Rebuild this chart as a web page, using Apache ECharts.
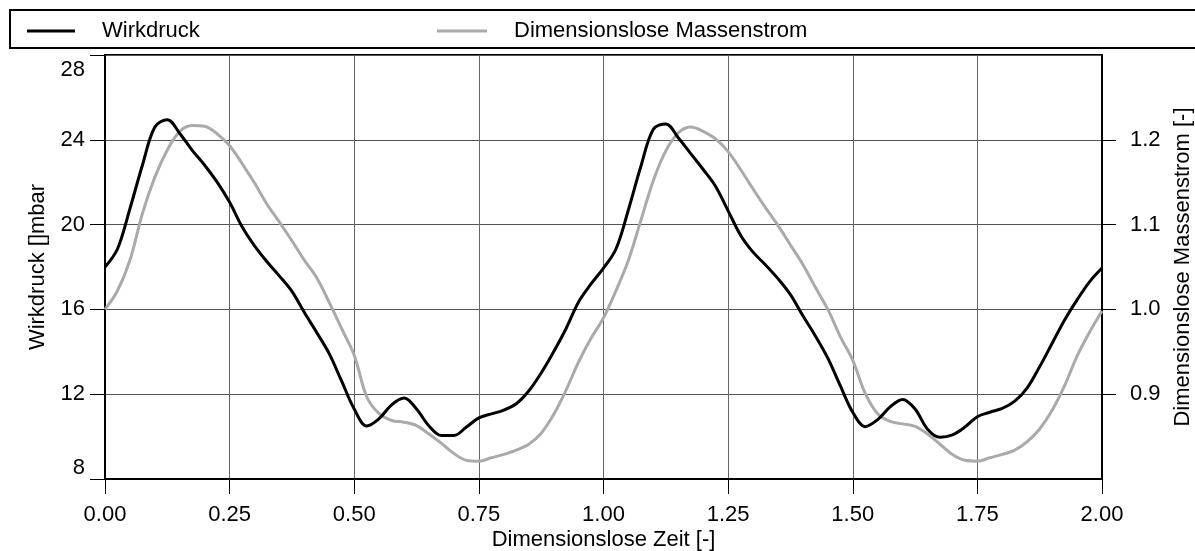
<!DOCTYPE html>
<html>
<head>
<meta charset="utf-8">
<script src="https://cdn.jsdelivr.net/npm/echarts@6/dist/echarts.min.js"></script>
<style>
  html, body { margin: 0; padding: 0; background: #fff; overflow: hidden; }
  #chart { width: 1195px; height: 551px; }
</style>
</head>
<body>
<div id="chart"></div>
<script>
// Zeitachse (dimensionslos)
const zeit = [
  0.000, 0.025, 0.050, 0.075, 0.100, 0.125, 0.150, 0.175, 0.200, 0.225,
  0.250, 0.275, 0.300, 0.325, 0.350, 0.375, 0.400, 0.425, 0.450, 0.475,
  0.500, 0.525, 0.550, 0.575, 0.600, 0.625, 0.650, 0.675, 0.700, 0.725,
  0.750, 0.775, 0.800, 0.825, 0.850, 0.875, 0.900, 0.925, 0.950, 0.975,
  1.000, 1.025, 1.050, 1.075, 1.100, 1.125, 1.150, 1.175, 1.200, 1.225,
  1.250, 1.275, 1.300, 1.325, 1.350, 1.375, 1.400, 1.425, 1.450, 1.475,
  1.500, 1.525, 1.550, 1.575, 1.600, 1.625, 1.650, 1.675, 1.700, 1.725,
  1.750, 1.775, 1.800, 1.825, 1.850, 1.875, 1.900, 1.925, 1.950, 1.975,
  2.000
];

// Wirkdruck [mbar]
const wirkdruck = [
  18.0, 18.85, 20.75, 22.8, 24.6, 24.95, 24.3, 23.5, 22.8, 22.0,
  21.05, 19.9, 19.0, 18.25, 17.57, 16.85, 15.85, 14.9, 13.9, 12.6,
  11.3, 10.5, 10.85, 11.5, 11.82, 11.3, 10.5, 10.05, 10.05, 10.45,
  10.88, 11.07, 11.25, 11.55, 12.15, 13.0, 14.0, 15.1, 16.35, 17.2,
  17.95, 18.85, 20.7, 22.75, 24.5, 24.75, 24.1, 23.35, 22.6, 21.8,
  20.65, 19.5, 18.7, 18.1, 17.45, 16.7, 15.7, 14.75, 13.7, 12.4,
  11.15, 10.47, 10.8, 11.4, 11.75, 11.3, 10.35, 9.97, 10.08, 10.45,
  10.94, 11.15, 11.33, 11.67, 12.3, 13.3, 14.4, 15.5, 16.45, 17.3,
  17.95
];

// Dimensionslose Massenstrom [-]
const massenstrom = [
  1.000, 1.022, 1.058, 1.113, 1.156, 1.188, 1.210, 1.217, 1.216, 1.207,
  1.193, 1.172, 1.149, 1.124, 1.103, 1.081, 1.058, 1.037, 1.008, 0.977,
  0.946, 0.897, 0.877, 0.869, 0.867, 0.863, 0.853, 0.842, 0.830, 0.822,
  0.821, 0.825, 0.829, 0.834, 0.841, 0.854, 0.876, 0.905, 0.938, 0.966,
  0.990, 1.022, 1.058, 1.105, 1.152, 1.187, 1.208, 1.215, 1.210, 1.201,
  1.186, 1.165, 1.142, 1.120, 1.099, 1.076, 1.053, 1.026, 1.000, 0.968,
  0.940, 0.901, 0.877, 0.868, 0.865, 0.862, 0.853, 0.841, 0.829, 0.822,
  0.821, 0.825, 0.829, 0.834, 0.844, 0.859, 0.881, 0.910, 0.945, 0.973,
  0.998
];

const FONT = "'Liberation Sans', Arial, sans-serif";
const FS = 22;

const chart = echarts.init(document.getElementById("chart"));

chart.setOption({
  backgroundColor: "#fff",
  animation: false,
  textStyle: { fontFamily: FONT, fontSize: FS, color: "#000" },
  graphic: [{
    type: "rect",
    shape: { x: 10, y: 10, width: 1200, height: 38 },
    style: { fill: "none", stroke: "#000", lineWidth: 2 }
  }],
  legend: [
    {
      data: ["Wirkdruck"],
      icon: "rect",
      left: 22, top: 15,
      itemWidth: 48, itemHeight: 3,
      textStyle: { fontFamily: FONT, fontSize: FS, color: "#000", padding: [0, 0, 0, 22] }
    },
    {
      data: ["Dimensionslose Massenstrom"],
      icon: "rect",
      left: 432, top: 15,
      itemWidth: 50, itemHeight: 3,
      textStyle: { fontFamily: FONT, fontSize: FS, color: "#000", padding: [0, 0, 0, 22] }
    }
  ],
  grid: {
    left: 105, right: 93, top: 55, bottom: 72,
    outerBoundsMode: "none",
    containLabel: false,
    show: true, borderColor: "#000", borderWidth: 2
  },
  xAxis: {
    type: "value",
    min: 0, max: 2, interval: 0.25,
    name: "Dimensionslose Zeit [-]",
    nameLocation: "middle",
    nameGap: 50,
    nameMoveOverlap: false,
    nameTextStyle: { fontFamily: FONT, fontSize: FS, color: "#000" },
    axisLine: { show: true, lineStyle: { color: "#000", width: 2 } },
    axisTick: { show: true, inside: false, length: 15, lineStyle: { color: "#000", width: 1 } },
    axisLabel: {
      margin: 25, fontFamily: FONT, fontSize: FS, color: "#000",
      formatter: v => v.toFixed(2)
    },
    splitLine: { show: true, lineStyle: { color: "#666", width: 1 } }
  },
  yAxis: [
    {
      type: "value",
      position: "left",
      min: 8, max: 28, interval: 4,
      name: "Wirkdruck []mbar",
      nameLocation: "middle",
      nameRotate: 90,
      nameGap: 56,
      nameTextStyle: { fontFamily: FONT, fontSize: FS, color: "#000" },
      axisLine: { show: true, lineStyle: { color: "#000", width: 2 } },
      axisTick: { show: true, inside: false, length: 15, lineStyle: { color: "#000", width: 1 } },
      axisLabel: {
        margin: 20, fontFamily: FONT, fontSize: FS, color: "#000",
        formatter: v => v === 28 ? "{max|28}" : (v === 8 ? "{min|8}" : String(v)),
        rich: {
          max: { fontFamily: FONT, fontSize: FS, color: "#000", padding: [30, 0, 0, 0] },
          min: { fontFamily: FONT, fontSize: FS, color: "#000", padding: [0, 0, 22, 0] }
        }
      },
      splitLine: { show: true, lineStyle: { color: "#555", width: 1 } }
    },
    {
      type: "value",
      position: "right",
      min: 0.8, max: 1.3, interval: 0.1,
      name: "Dimensionslose Massenstrom [-]",
      nameLocation: "middle",
      nameRotate: 90,
      nameGap: 68,
      nameTextStyle: { fontFamily: FONT, fontSize: FS, color: "#000" },
      axisLine: { show: true, lineStyle: { color: "#000", width: 2 } },
      axisTick: { show: true, inside: false, length: 14, lineStyle: { color: "#000", width: 1 } },
      axisLabel: {
        margin: 28, fontFamily: FONT, fontSize: FS, color: "#000",
        showMinLabel: false, showMaxLabel: false,
        formatter: v => v.toFixed(1)
      },
      splitLine: { show: false }
    }
  ],
  series: [
    {
      name: "Wirkdruck",
      type: "line",
      yAxisIndex: 0,
      data: zeit.map((t, i) => [t, wirkdruck[i]]),
      symbol: "none",
      smooth: 0.35,
      lineStyle: { color: "#000", width: 3 },
      itemStyle: { color: "#000" },
      z: 3
    },
    {
      name: "Dimensionslose Massenstrom",
      type: "line",
      yAxisIndex: 1,
      data: zeit.map((t, i) => [t, massenstrom[i]]),
      symbol: "none",
      smooth: 0.35,
      lineStyle: { color: "#aaa", width: 3 },
      itemStyle: { color: "#aaa" },
      z: 2
    }
  ]
});
</script>
</body>
</html>
